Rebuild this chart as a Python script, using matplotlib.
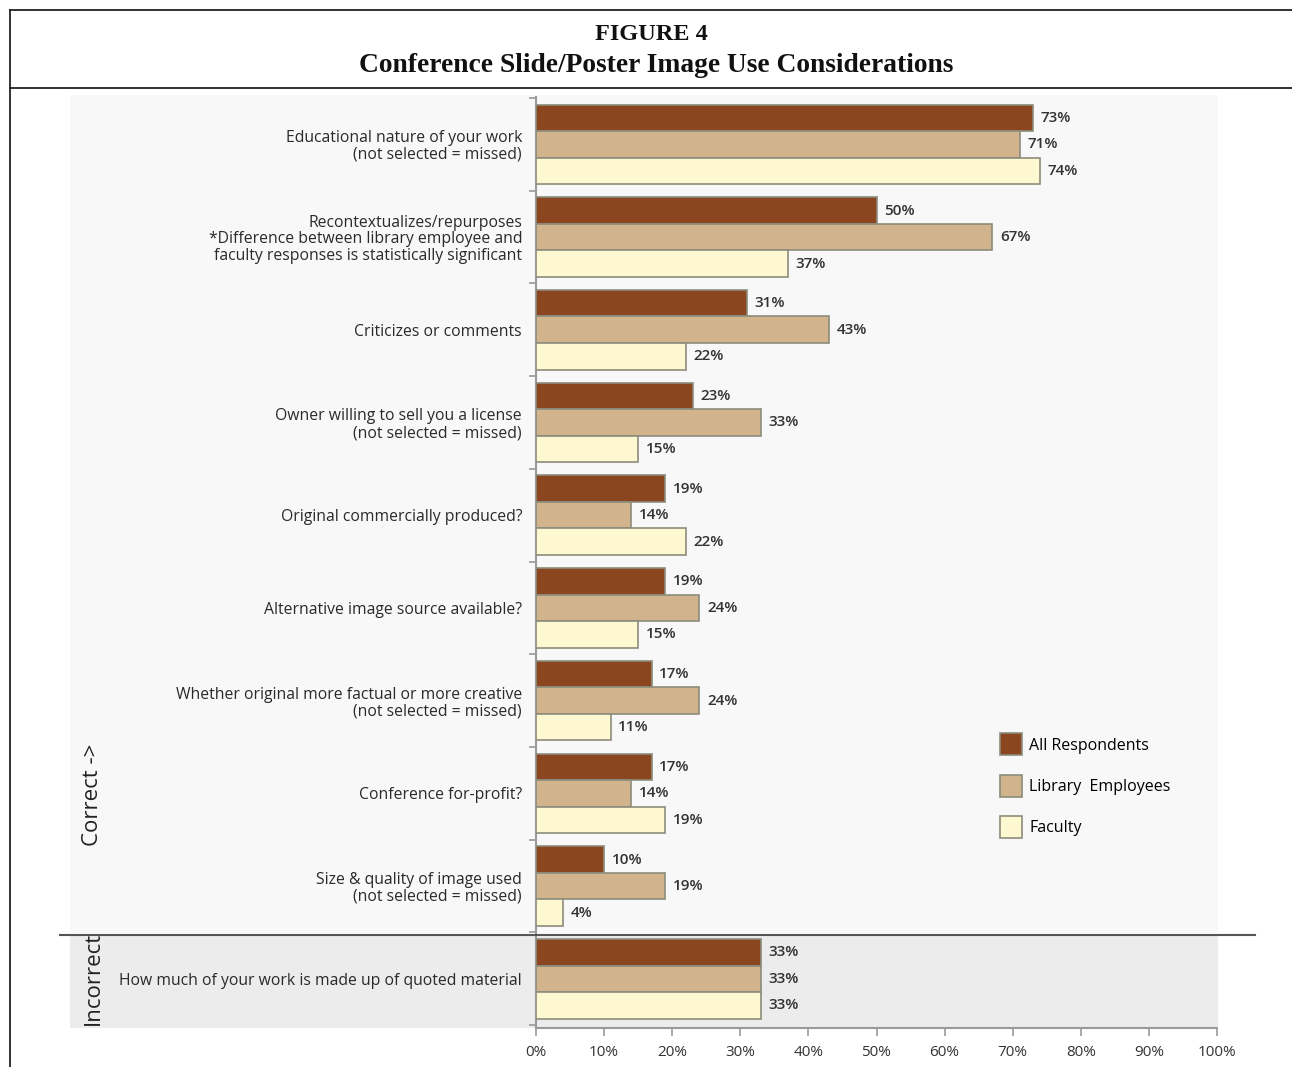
import matplotlib
matplotlib.use("Agg")
import matplotlib.pyplot as plt
from matplotlib.patches import Rectangle, Patch
from matplotlib.lines import Line2D
import numpy as np

categories = [
    "Educational nature of your work\n(not selected = missed)",
    "Recontextualizes/repurposes\n*Difference between library employee and\nfaculty responses is statistically significant",
    "Criticizes or comments",
    "Owner willing to sell you a license\n(not selected = missed)",
    "Original commercially produced?",
    "Alternative image source available?",
    "Whether original more factual or more creative\n(not selected = missed)",
    "Conference for-profit?",
    "Size & quality of image used\n(not selected = missed)",
    "How much of your work is made up of quoted material",
]
all_resp = [73, 50, 31, 23, 19, 19, 17, 17, 10, 33]
library = [71, 67, 43, 33, 14, 24, 24, 14, 19, 33]
faculty = [74, 37, 22, 15, 22, 15, 11, 19, 4, 33]
series_names = ["All Respondents", "Library  Employees", "Faculty"]
colors = ["#8b451f", "#d2b48c", "#fdf8d0"]
xticks = np.arange(0, 101, 10)

W, H = 1292, 1067
fig = plt.figure(figsize=(W / 100, H / 100), dpi=100)
fig.patch.set_facecolor("white")

def fx(px):
    return px / W

def fy(py):
    return 1 - py / H

# background panels
fig.patches.append(Rectangle((fx(70), fy(933)), fx(1218) - fx(70), fy(95) - fy(933),
                             transform=fig.transFigure, facecolor="#f7f8f7", edgecolor="none", zorder=-10))
fig.patches.append(Rectangle((fx(70), fy(1028)), fx(1218) - fx(70), fy(935) - fy(1028),
                             transform=fig.transFigure, facecolor="#ececec", edgecolor="none", zorder=-10))

# title box
for (x0, y0, x1, y1) in [(10, 10, 1292, 10), (10, 88, 1292, 88), (10, 10, 10, 1067)]:
    fig.add_artist(Line2D([fx(x0), fx(x1)], [fy(y0), fy(y1)], transform=fig.transFigure,
                          color="#222222", lw=1.3))
fig.text(fx(651), fy(34), "FIGURE 4", ha="center", va="center",
         family="Liberation Serif", weight="bold", fontsize=17.5, color="#111111")
fig.text(fx(656), fy(66), "Conference Slide/Poster Image Use Considerations", ha="center", va="center",
         family="Liberation Serif", weight="bold", fontsize=19.8, color="#111111")

ax = fig.add_axes([fx(536), fy(1028), fx(1217) - fx(536), fy(97) - fy(1028)])
ax.set_facecolor("none")

y = np.arange(len(categories))
bh = 0.286
for k, vals in enumerate([all_resp, library, faculty]):
    pos = y + (k - 1) * bh
    ax.barh(pos, vals, height=bh, color=colors[k], edgecolor="#8c8c7c", linewidth=1.2, zorder=3)
    for p, v in zip(pos, vals):
        ax.text(v + 1.1, p, f"{v}%", va="center", ha="left", fontsize=11,
                family="Open Sans", weight="semibold", color="#333333")

ax.set_xlim(0, 100)
ax.set_ylim(9.53, -0.51)
ax.set_xticks(xticks)
ax.set_xticklabels([f"{t}%" for t in xticks], family="Open Sans", fontsize=11, color="#333333")
ax.set_yticks(y)
ax.set_yticklabels(categories, family="Open Sans", fontsize=11.3, color="#2a2a2a",
                   linespacing=1.05)
ax.set_yticks(np.arange(-0.5, 9.6, 1.0), minor=True)
ax.tick_params(axis="y", which="major", length=0, pad=10)
ax.tick_params(axis="y", which="minor", length=5, color="#999999", width=1.2)
ax.tick_params(axis="x", length=6, color="#999999", width=1.2, pad=6)
for s in ["top", "right"]:
    ax.spines[s].set_visible(False)
for s in ["left", "bottom"]:
    ax.spines[s].set_color("#9a9a9a")
    ax.spines[s].set_linewidth(1.5)

# separator between correct / incorrect
fig.add_artist(Line2D([fx(60), fx(1255)], [fy(935), fy(935)], transform=fig.transFigure,
                      color="#555555", lw=1.5, zorder=5))

fig.text(fx(93), fy(795), "Correct ->", rotation=90, ha="center", va="center",
         family="Open Sans", fontsize=16, color="#222222")
t = fig.text(fx(93), fy(978), "Incorrect", rotation=90, ha="center", va="center",
             family="Open Sans", fontsize=16, color="#222222")
t.set_clip_path(Rectangle((fx(60), fy(1030)), fx(40), fy(936) - fy(1030), transform=fig.transFigure))
t.set_clip_on(True)

handles = [Patch(facecolor=c, edgecolor="#8c8c7c", linewidth=1.2) for c in colors]
ax.legend(handles, series_names, loc="upper left", bbox_to_anchor=(fx(986), fy(719)),
          bbox_transform=fig.transFigure, frameon=False, handlelength=1.35, handleheight=1.75,
          labelspacing=1.2, handletextpad=0.45, prop={"family": "Open Sans", "size": 11.5})

fig.savefig("out.png", dpi=100)
